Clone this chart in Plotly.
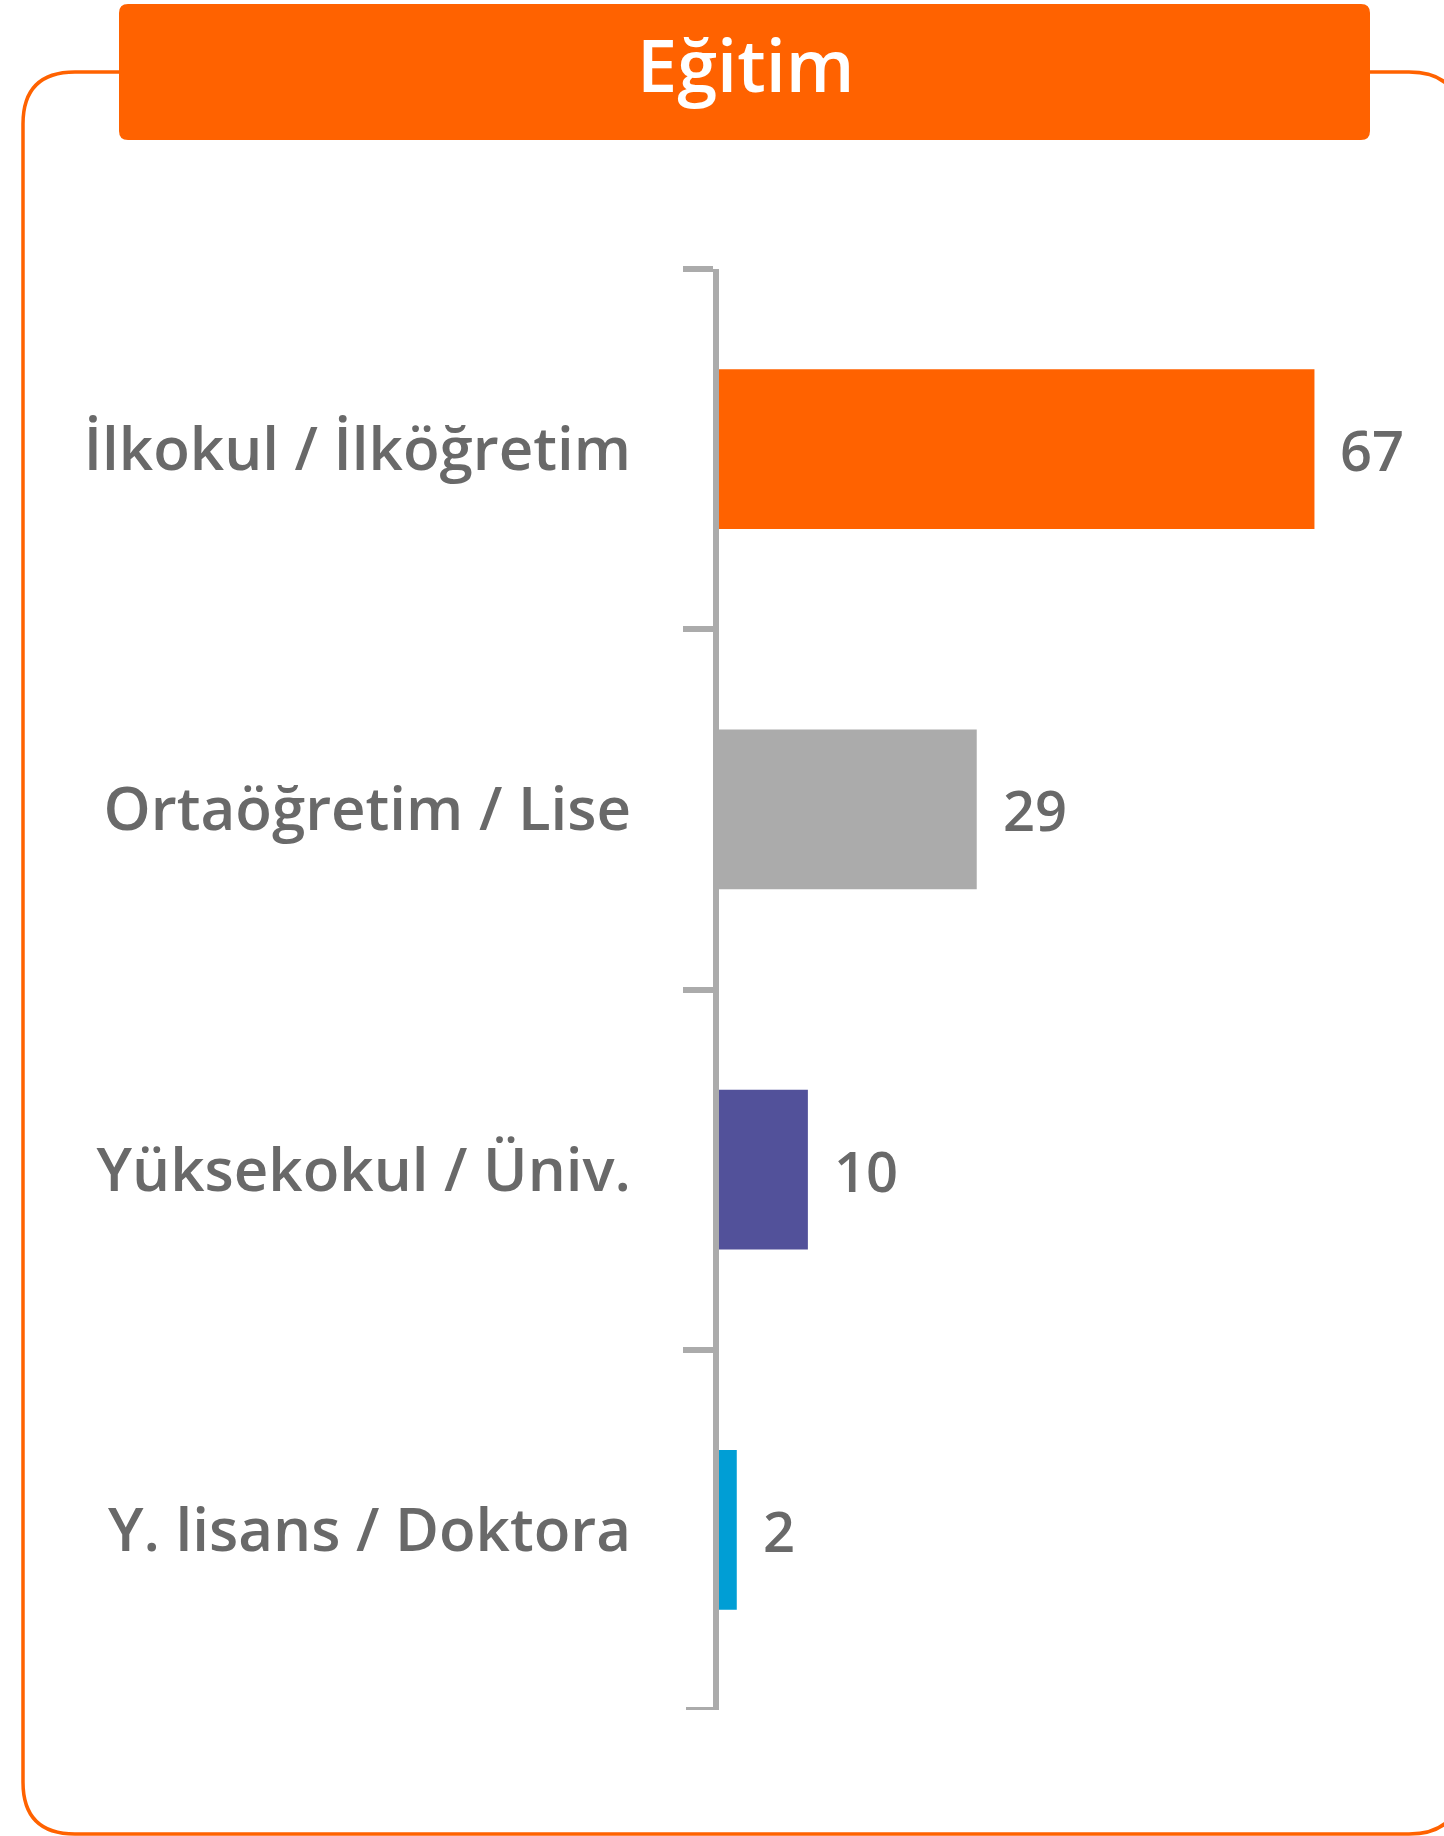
import plotly.graph_objects as go

# ---- data ----
categories = ["İlkokul / İlköğretim", "Ortaöğretim / Lise", "Yüksekokul / Üniv.", "Y. lisans / Doktora"]
values = [67, 29, 10, 2]
bar_colors = ["#FF6200", "#ABABAB", "#52519A", "#009ED5"]
title_text = "Eğitim"

W, H = 1444, 1836
ORANGE = "#FF6200"
GREY_TXT = "#696969"
AXIS_GREY = "#ABABAB"
FONT = "Open Sans"


def px(x):
    return x / W


def py(y):
    return 1 - y / H


def rounded_rect(x0, y0, x1, y1, r):
    rx, ry = r / W, r / H
    X0, X1 = px(x0), px(x1)
    Y0, Y1 = py(y0), py(y1)  # Y0 top, Y1 bottom
    return (
        f"M {X0 + rx},{Y0} L {X1 - rx},{Y0} Q {X1},{Y0} {X1},{Y0 - ry} "
        f"L {X1},{Y1 + ry} Q {X1},{Y1} {X1 - rx},{Y1} "
        f"L {X0 + rx},{Y1} Q {X0},{Y1} {X0},{Y1 + ry} "
        f"L {X0},{Y0 - ry} Q {X0},{Y0} {X0 + rx},{Y0} Z"
    )


fig = go.Figure()
fig.add_trace(
    go.Bar(
        x=values,
        y=categories,
        orientation="h",
        marker=dict(color=bar_colors, line=dict(width=0)),
        hoverinfo="skip",
    )
)

for v, c in zip(values, categories):
    fig.add_annotation(
        x=v, y=c, xref="x", yref="y",
        text=str(v), showarrow=False,
        xanchor="left", yanchor="middle", xshift=24,
        font=dict(family=FONT, size=56, color=GREY_TXT, weight=600),
    )

# outer rounded frame (right side runs past the page edge, as in the original)
fig.add_shape(
    type="path", xref="paper", yref="paper",
    path=rounded_rect(23, 72, 1461, 1834, 52),
    line=dict(color=ORANGE, width=3.5), fillcolor="rgba(0,0,0,0)", layer="below",
)
# title box
fig.add_shape(
    type="path", xref="paper", yref="paper",
    path=rounded_rect(119, 4, 1370, 140, 9),
    line=dict(color=ORANGE, width=0), fillcolor=ORANGE, layer="above",
)
fig.add_annotation(
    x=px(745), y=py(64), xref="paper", yref="paper",
    text=title_text, showarrow=False, xanchor="center", yanchor="middle",
    font=dict(family=FONT, size=72, color="white", weight=600),
)

# bottom boundary tick of the category axis
fig.add_shape(
    type="line", xref="paper", yref="y",
    x0=px(686), x1=px(719), y0=3.5, y1=3.5,
    line=dict(color=AXIS_GREY, width=6), layer="above",
)

fig.update_layout(
    width=W, height=H,
    margin=dict(l=0, r=0, t=0, b=0),
    paper_bgcolor="white", plot_bgcolor="white",
    showlegend=False,
    bargap=0.556,
    font=dict(family=FONT, color=GREY_TXT),
    xaxis=dict(
        domain=[px(719), px(1430)], range=[0, 80],
        visible=False, showgrid=False, zeroline=False, fixedrange=True,
    ),
    yaxis=dict(
        domain=[py(1710), py(269)],
        range=[3.5, -0.5], type="category",
        categoryorder="array", categoryarray=categories,
        showline=True, linecolor=AXIS_GREY, linewidth=6,
        ticks="outside", tickson="boundaries", ticklen=30, tickwidth=6, tickcolor=AXIS_GREY,
        ticklabelstandoff=70,
        tickfont=dict(family=FONT, size=60, color=GREY_TXT, weight=600),
        showgrid=False, zeroline=False, automargin=False, fixedrange=True,
    ),
)

fig.write_html(
    "out.html",
    config={"displayModeBar": False, "staticPlot": True},
    post_script=(
        "document.body.style.margin='0';"
        "document.body.style.overflow='hidden';"
        "document.documentElement.style.overflow='hidden';"
    ),
)
